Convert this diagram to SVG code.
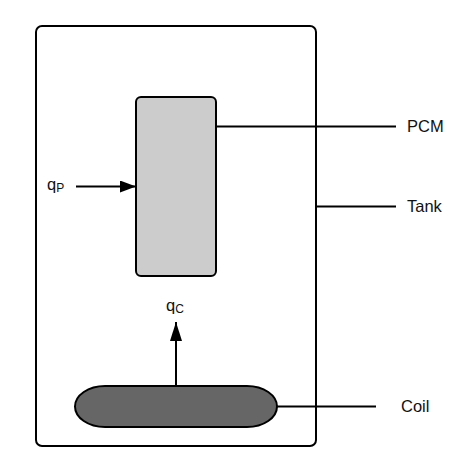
<svg xmlns="http://www.w3.org/2000/svg" width="474" height="474" viewBox="0 0 474 474">
<style>
.ln{stroke:#000;stroke-width:2;fill:none}
.t{font-family:"Liberation Sans",Arial,sans-serif;font-size:16.5px;fill:#111}
.s{font-size:12px}
</style>
<defs>
<marker id="ah" markerWidth="16" markerHeight="12" refX="16" refY="6" orient="auto" markerUnits="userSpaceOnUse" viewBox="0 0 16 12">
<path d="M0,0 L16,6 L0,12 Z" fill="#000"/>
</marker>
<marker id="ah2" markerWidth="19" markerHeight="12" refX="19" refY="6" orient="auto" markerUnits="userSpaceOnUse" viewBox="0 0 19 12">
<path d="M0,0 L19,6 L0,12 Z" fill="#000"/>
</marker>
</defs>
<rect width="474" height="474" fill="#fff"/>
<g id="tank">
<rect x="36" y="26" width="280" height="420" rx="6" fill="#fff" stroke="#000" stroke-width="2"/>
</g>
<g id="pcm">
<rect x="136" y="97" width="80" height="179" rx="5" fill="#ccc" stroke="#000" stroke-width="2"/>
</g>
<g id="coil">
<path d="M105,386 H247 A30,20.5 0 0 1 247,427 H105 A30,20.5 0 0 1 105,386 Z" fill="#666" stroke="#000" stroke-width="2"/>
</g>
<g id="connectors">
<line class="ln" x1="216" y1="126.5" x2="396" y2="126.5"/>
<line class="ln" x1="316" y1="206.5" x2="396" y2="206.5"/>
<line class="ln" x1="277" y1="406.5" x2="376" y2="406.5"/>
<line class="ln" x1="76" y1="186.5" x2="136" y2="186.5" marker-end="url(#ah)"/>
<line class="ln" x1="176" y1="386" x2="176" y2="322" marker-end="url(#ah2)"/>
</g>
<g id="labels">
<text class="t" x="407" y="132">PCM</text>
<text class="t" x="407" y="212">Tank</text>
<text class="t" x="401" y="412">Coil</text>
<text class="t" x="47" y="190">q<tspan class="s" dy="2">P</tspan></text>
<text class="t" x="166" y="311">q<tspan class="s" dy="2">C</tspan></text>
</g>
</svg>
